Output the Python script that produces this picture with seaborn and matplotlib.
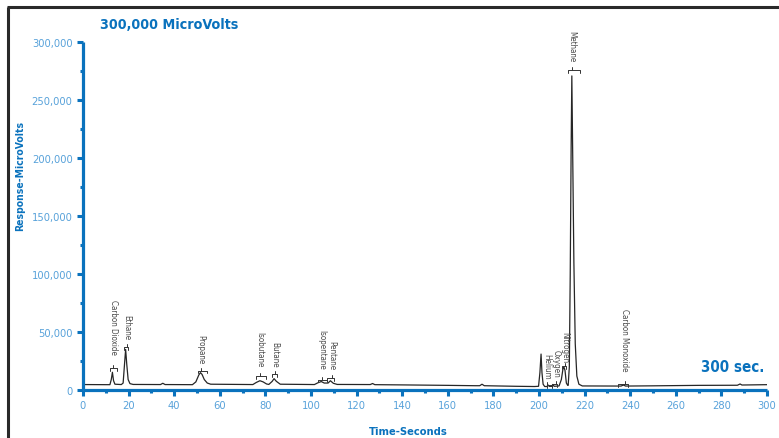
import numpy as np
import pandas as pd
import seaborn as sns
import matplotlib
matplotlib.use("Agg")
import matplotlib.pyplot as plt
from matplotlib.lines import Line2D
from matplotlib.ticker import FuncFormatter, MultipleLocator

# Detector trace: retention time (s) and response (microvolts)
time_s = [0, 10, 11.8, 12.4, 12.9, 13.4, 14.0, 16.8, 17.6, 18.2, 18.7, 19.2, 19.8, 20.6, 22,
          34, 35, 36, 48.0, 49.5, 50.8, 51.5, 52.2, 53.2, 54.5, 56,
          74.5, 76, 77.6, 79, 80.5, 81.5, 83, 83.8, 84.8, 86.5,
          101.5, 103, 104.5, 105.8, 107.5, 108.5, 109.8, 111.5,
          126, 127, 128, 140, 160, 172, 174, 175, 176, 190, 198,
          199.8, 200.4, 200.9, 201.3, 201.8, 202.5, 203.5, 204.0, 204.5, 205.6, 206.1, 206.6,
          208.8, 209.8, 210.5, 210.9, 211.4, 212.0, 212.6,
          212.8, 213.3, 213.7, 214.1, 214.4, 214.8, 215.3, 215.9, 216.6, 217.5, 219,
          236, 237, 238, 250, 270, 287, 288.2, 289, 300]
response_uv = [4700, 4600, 4600, 9000, 15300, 8000, 5000, 4700, 6000, 22000, 35000, 22000, 9000, 5500, 4800,
               4700, 5800, 4700, 4600, 7000, 13000, 15000, 13500, 9000, 6000, 5000,
               4700, 6500, 8000, 7000, 5200, 4800, 7500, 9800, 7500, 5000,
               4700, 6200, 7300, 6000, 6000, 8000, 5800, 4800,
               4700, 5600, 4600, 4400, 4000, 3700, 3700, 5000, 3700, 3200, 3000,
               3200, 15000, 31000, 15000, 5000, 3000, 3000, 4300, 3100, 3100, 4800, 3200,
               3500, 9000, 18000, 20000, 17000, 6000, 4000,
               4000, 20000, 100000, 210000, 271000, 200000, 110000, 40000, 12000, 5000, 3500,
               3400, 4300, 3400, 3600, 4000, 4100, 5200, 4300, 4600]

# Peak identification labels
compounds = ["Carbon Dioxide", "Ethane", "Propane", "Isobutane", "Butane", "Isopentane",
             "Pentane", "Helium", "Oxygen", "Nitrogen", "Methane", "Carbon Monoxide"]
label_time = [13.3, 19.1, 51.6, 77.6, 84.2, 104.7, 109.1, 203.4, 207.3, 211.4, 214.3, 237.7]
label_level = [31200, 44100, 23400, 19900, 19900, 18200, 18200, 9500, 11200, 24200, 283800, 16400]
bracket_time = [13.3, 19.0, 52.4, 78.1, 83.9, 105.0, 108.6, 204.4, 206.8, 211.0, 215.3, 237.0]
bracket_level = [19000, 37200, 16700, 11700, 13800, 8900, 10100, 4300, 5200, 20800, 276300, 5200]
bracket_half = [1.45, 0.9, 1.8, 2.2, 1.2, 1.8, 1.5, 1.1, 1.2, 1.0, 2.5, 2.2]

x_ticks = list(range(0, 301, 20))
y_ticks = list(range(0, 300001, 50000))

BLUE = "#0a72bd"
TICK_BLUE = "#58a2da"
TRACE = "#262626"
FONT = dict(family=["DejaVu Sans"], stretch="condensed")

sns.set_theme(style="white")
plt.rcParams["font.family"] = ["DejaVu Sans"]
plt.rcParams["font.stretch"] = "condensed"

fig = plt.figure(figsize=(7.79, 4.39), dpi=100)
ax = fig.add_axes([83 / 779, 1 - 391 / 439, (767 - 83) / 779, (391 - 43.3) / 439])

df = pd.DataFrame({"Time-Seconds": time_s, "Response-MicroVolts": response_uv})
sns.lineplot(data=df, x="Time-Seconds", y="Response-MicroVolts", ax=ax,
             color=TRACE, linewidth=0.9, sort=False, estimator=None)

ax.set_xlim(0, 300)
ax.set_ylim(0, 300000)
ax.set_xticks(x_ticks)
ax.set_yticks(y_ticks)
ax.xaxis.set_minor_locator(MultipleLocator(10))
ax.yaxis.set_minor_locator(MultipleLocator(25000))
ax.yaxis.set_major_formatter(FuncFormatter(lambda v, _: f"{int(v):,}"))

for side in ("top", "right"):
    ax.spines[side].set_visible(False)
for side in ("left", "bottom"):
    ax.spines[side].set_color(BLUE)
    ax.spines[side].set_linewidth(2.3)
    ax.spines[side].set_capstyle("butt")

ax.tick_params(axis="both", which="major", direction="out", color=BLUE, width=2.2,
               length=4.5, labelcolor=TICK_BLUE, labelsize=8, pad=3)
ax.tick_params(axis="both", which="minor", direction="out", color=BLUE, width=2.2, length=2.5)
ax.tick_params(axis="y", which="both", left=True)
ax.tick_params(axis="x", which="both", bottom=True)
for lab in ax.get_xticklabels() + ax.get_yticklabels():
    lab.set_fontstretch("condensed")
ax.set_xlabel("")
ax.set_ylabel("")
ax.grid(False)

# Peak brackets and compound names
for name, lt, ll, bt, bl, hw in zip(compounds, label_time, label_level,
                                     bracket_time, bracket_level, bracket_half):
    ax.plot([bt - hw, bt - hw, bt + hw, bt + hw], [bl - 2400, bl, bl, bl - 2400],
            color="#333333", linewidth=0.7, clip_on=False)
    ax.plot([lt, lt], [bl, bl + 2600], color="#333333", linewidth=0.7, clip_on=False)
    ax.text(lt, ll, name, rotation=270, ha="center", va="bottom", fontsize=5.8,
            color="#4a4a4a", clip_on=False, **FONT)

# Titles and axis names
fig.text(100 / 779, 1 - 25 / 439, "300,000 MicroVolts", fontsize=10.3, fontweight="bold",
         color=BLUE, ha="left", va="center", **FONT)
fig.text(764 / 779, 1 - 368 / 439, "300 sec.", fontsize=10.8, fontweight="bold",
         color=BLUE, ha="right", va="center", **FONT)
fig.text(20 / 779, 1 - 176 / 439, "Response-MicroVolts", fontsize=7.5, fontweight="bold",
         color=BLUE, rotation=90, ha="center", va="center", **FONT)
fig.text(408 / 779, 1 - 432 / 439, "Time-Seconds", fontsize=8, fontweight="bold",
         color=BLUE, ha="center", va="center", **FONT)

# Page frame on the left and top edges
fig.add_artist(Line2D([8 / 779, 8 / 779], [0, 1 - 7.5 / 439], transform=fig.transFigure,
                      color="#2a2a2a", linewidth=2.2, solid_capstyle="butt"))
fig.add_artist(Line2D([7 / 779, 1], [1 - 7.5 / 439, 1 - 7.5 / 439], transform=fig.transFigure,
                      color="#2a2a2a", linewidth=2.2, solid_capstyle="butt"))

fig.savefig("out.png", dpi=100)
